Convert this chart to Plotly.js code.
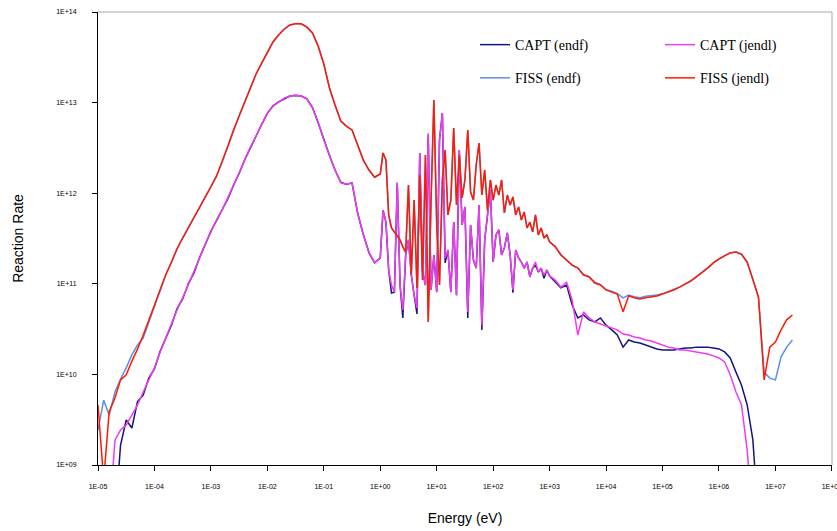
<!DOCTYPE html>
<html>
<head>
<meta charset="utf-8">
<script src="https://cdn.plot.ly/plotly-3.0.1.min.js"></script>
<style>html,body{margin:0;padding:0;background:#fff;}#chart{width:837px;height:531px;}</style>
</head>
<body>
<div id="chart"></div>
<script>
// Energy grid (eV)
const energy = [
  1e-5,1.26e-5,1.58e-5,2e-5,2.51e-5,3.16e-5,3.98e-5,5.01e-5,6.31e-5,7.94e-5,
  1e-4,1.26e-4,1.58e-4,2e-4,2.51e-4,3.16e-4,3.98e-4,5.01e-4,6.31e-4,7.94e-4,
  1e-3,1.26e-3,1.58e-3,2e-3,2.51e-3,3.16e-3,3.98e-3,5.01e-3,6.31e-3,7.94e-3,
  1e-2,1.26e-2,1.58e-2,2e-2,2.51e-2,3.16e-2,3.98e-2,5.01e-2,6.31e-2,7.94e-2,
  1e-1,1.26e-1,1.58e-1,2e-1,2.51e-1,3.16e-1,3.98e-1,5.01e-1,6.31e-1,7.94e-1,
  1,1.12,1.26,1.41,1.58,1.78,2,2.24,2.51,2.82,3.16,3.55,3.98,4.47,5.01,5.62,6.31,7.08,7.94,8.91,
  10,11.2,12.6,14.1,15.8,17.8,20,22.4,25.1,28.2,31.6,35.5,39.8,44.7,50.1,56.2,63.1,70.8,79.4,89.1,
  100,112,126,141,158,178,200,224,251,282,316,355,398,447,501,562,631,708,794,891,
  1e3,1.26e3,1.58e3,2e3,2.51e3,3.16e3,3.98e3,5.01e3,6.31e3,7.94e3,
  1e4,1.26e4,1.58e4,2e4,2.51e4,3.16e4,3.98e4,5.01e4,6.31e4,7.94e4,
  1e5,1.26e5,1.58e5,2e5,2.51e5,3.16e5,3.98e5,5.01e5,6.31e5,7.94e5,
  1e6,1.26e6,1.58e6,2e6,2.51e6,3.16e6,3.98e6,5.01e6,6.31e6,7.94e6,
  1e7,1.26e7,1.58e7,2e7
];

const captEndf = [
  null,null,null,2.5e8,1.66e9,3.14e9,2.56e9,5.0e9,5.9e9,9.1e9,
  1.15e10,1.8e10,2.45e10,3.5e10,5.3e10,6.8e10,1.0e11,1.32e11,1.95e11,2.7e11,
  3.8e11,5.0e11,6.6e11,8.7e11,1.22e12,1.65e12,2.35e12,3.2e12,4.3e12,5.75e12,
  7.6e12,9.2e12,1.02e13,1.11e13,1.18e13,1.2e13,1.18e13,1.1e13,8.8e12,6.0e12,
  3.9e12,2.6e12,1.8e12,1.32e12,1.25e12,1.3e12,6.0e11,3.5e11,2.2e11,1.7e11,
  1.93e11,6.5e11,4.8e11,1.42e11,7.9e10,8.1e10,1.3e12,9.7e10,4.2e10,2.08e11,
  3.05e11,1.25e11,7.5e10,4.65e10,2.78e12,1.35e11,9.7e10,4.4e12,8.55e10,2.08e11,
  8.1e10,3.87e12,7.68e12,1.7e11,2.36e11,8.1e10,4.8e11,7.5e10,3.0e12,4.46e11,
  7.05e11,4.2e10,4.46e11,1.83e11,1.49e11,7.42e11,3.1e10,3.05e11,5.75e11,1.08e12,
  1.74e11,3.46e11,3.93e11,2.08e11,2.49e11,3.64e11,2.08e11,8.0e10,2.36e11,1.93e11,
  1.74e11,1.49e11,1.74e11,1.19e11,1.49e11,1.6e11,1.35e11,1.49e11,1.15e11,1.42e11,
  1.22e11,1.04e11,9.0e10,9.7e10,5.84e10,4.2e10,4.53e10,4.0e10,3.79e10,4.2e10,
  3.5e10,3.1e10,2.72e10,2.0e10,2.4e10,2.28e10,2.22e10,2.11e10,2.0e10,1.91e10,
  1.86e10,1.86e10,1.86e10,1.91e10,1.96e10,1.96e10,2.0e10,2.0e10,2.0e10,1.96e10,
  1.91e10,1.77e10,1.52e10,1.06e10,7.6e9,4.6e9,1.89e9,2.5e8,null,null,
  null,null,null,null
];

const captJendl = [
  null,null,2.5e8,1.89e9,2.43e9,2.76e9,3.56e9,4.6e9,6.4e9,8.7e9,
  1.18e10,1.77e10,2.52e10,3.6e10,5.14e10,7.0e10,9.7e10,1.35e11,1.93e11,2.75e11,
  3.73e11,5.06e11,6.5e11,8.85e11,1.2e12,1.67e12,2.32e12,3.23e12,4.28e12,5.8e12,
  7.68e12,9.15e12,1.02e13,1.12e13,1.18e13,1.21e13,1.18e13,1.1e13,8.7e12,6.1e12,
  3.87e12,2.64e12,1.8e12,1.3e12,1.26e12,1.3e12,6.05e11,3.46e11,2.24e11,1.7e11,
  1.93e11,6.5e11,4.8e11,1.42e11,9.7e10,8.1e10,1.3e12,9.7e10,5.14e10,2.08e11,
  3.05e11,1.25e11,7.5e10,5.4e10,2.78e12,1.35e11,9.7e10,4.6e12,8.55e10,2.08e11,
  8.1e10,3.87e12,7.68e12,1.93e11,2.36e11,8.1e10,4.8e11,7.5e10,3.0e12,4.46e11,
  7.05e11,4.9e10,4.46e11,1.83e11,1.49e11,7.42e11,3.5e10,3.05e11,5.75e11,1.08e12,
  1.74e11,3.46e11,3.93e11,2.08e11,2.49e11,3.64e11,2.08e11,8.55e10,2.36e11,1.93e11,
  1.74e11,1.49e11,1.74e11,1.19e11,1.49e11,1.74e11,1.35e11,1.49e11,1.25e11,1.42e11,
  1.22e11,1.1e11,9.2e10,1.04e11,6.6e10,2.72e10,4.9e10,4.2e10,3.79e10,3.6e10,
  3.42e10,3.25e10,3.1e10,2.79e10,2.72e10,2.59e10,2.52e10,2.4e10,2.34e10,2.22e10,
  2.11e10,2.0e10,1.96e10,1.86e10,1.86e10,1.81e10,1.77e10,1.72e10,1.68e10,1.6e10,
  1.52e10,1.37e10,9.9e9,6.4e9,4.6e9,1.46e9,2.5e8,null,null,null,
  null,null,null,null
];

const fissEndf = [
  2.43e9,5.2e9,3.56e9,6.4e9,8.9e9,1.18e10,1.64e10,2.11e10,2.52e10,3.79e10,
  5.8e10,8.3e10,1.25e11,1.72e11,2.45e11,3.2e11,4.1e11,5.4e11,7.0e11,9.1e11,
  1.17e12,1.55e12,2.2e12,3.3e12,5.0e12,7.1e12,1.02e13,1.45e13,2.07e13,2.73e13,
  3.62e13,4.67e13,5.58e13,6.5e13,7.2e13,7.4e13,7.4e13,6.8e13,5.87e13,4.2e13,
  2.67e13,1.45e13,9.4e12,6.27e12,5.5e12,5.0e12,3.4e12,2.32e12,1.8e12,1.5e12,
  1.63e12,2.78e12,2.32e12,5.75e11,4.13e11,3.73e11,3.37e11,3.05e11,2.55e11,2.24e11,
  1.23e12,1.25e11,8.4e11,9.0e10,1.59e12,1.1e11,2.64e12,3.79e10,8.4e11,1.07e13,
  4.46e11,9.7e10,1.4e12,3.0e12,5.75e11,8.4e11,5.24e12,7.42e11,2.64e12,8.85e11,
  1.4e12,4.98e12,1.03e12,8.4e11,2.05e12,3.58e12,9.55e11,1.8e12,6.5e11,1.4e12,
  8.4e11,1.23e12,9.55e11,1.4e12,6.05e11,9.55e11,7.42e11,9.1e11,5.75e11,7.05e11,
  5.06e11,6.2e11,4.13e11,4.8e11,3.73e11,5.75e11,3.46e11,4.13e11,3.2e11,3.46e11,
  2.9e11,2.6e11,2.1e11,1.85e11,1.6e11,1.5e11,1.27e11,1.2e11,1.04e11,9.8e10,
  8.6e10,8.3e10,7.8e10,7.0e10,7.5e10,7.2e10,7.0e10,7.3e10,7.4e10,7.5e10,
  7.8e10,8.2e10,8.6e10,9.2e10,1.0e11,1.08e11,1.2e11,1.33e11,1.5e11,1.7e11,
  1.88e11,2.05e11,2.2e11,2.24e11,2.1e11,1.72e11,1.12e11,7.0e10,1.06e10,9.1e9,
  8.7e9,1.56e10,2.0e10,2.4e10
];

const fissJendl = [
  4.6e9,6.8e8,3.9e9,5.5e9,8.7e9,9.9e9,1.4e10,1.9e10,2.7e10,4.0e10,
  5.8e10,8.5e10,1.25e11,1.74e11,2.42e11,3.2e11,4.13e11,5.33e11,7.05e11,9.1e11,
  1.17e12,1.55e12,2.21e12,3.32e12,4.98e12,7.1e12,1.02e13,1.45e13,2.07e13,2.73e13,
  3.62e13,4.67e13,5.58e13,6.5e13,7.2e13,7.4e13,7.4e13,6.8e13,5.87e13,4.2e13,
  2.67e13,1.45e13,9.4e12,6.27e12,5.5e12,5.0e12,3.4e12,2.32e12,1.8e12,1.5e12,
  1.63e12,2.78e12,2.32e12,5.75e11,4.13e11,3.73e11,3.37e11,3.05e11,2.55e11,2.24e11,
  1.23e12,1.25e11,8.4e11,9.0e10,1.59e12,1.1e11,2.64e12,3.79e10,8.4e11,1.07e13,
  4.46e11,9.7e10,1.4e12,3.0e12,5.75e11,8.4e11,5.24e12,7.42e11,2.64e12,8.85e11,
  1.4e12,4.98e12,1.03e12,8.4e11,2.05e12,3.58e12,9.55e11,1.8e12,6.5e11,1.4e12,
  8.4e11,1.23e12,9.55e11,1.4e12,6.05e11,9.55e11,7.42e11,9.1e11,5.75e11,7.05e11,
  5.06e11,6.2e11,4.13e11,4.8e11,3.73e11,5.75e11,3.46e11,4.13e11,3.2e11,3.46e11,
  2.9e11,2.55e11,2.08e11,1.83e11,1.61e11,1.49e11,1.25e11,1.19e11,1.02e11,9.7e10,
  8.55e10,8.1e10,7.7e10,4.9e10,7.35e10,7.0e10,6.8e10,7.0e10,7.15e10,7.35e10,
  7.7e10,8.1e10,8.55e10,9.2e10,9.9e10,1.07e11,1.19e11,1.32e11,1.49e11,1.7e11,
  1.88e11,2.03e11,2.19e11,2.24e11,2.13e11,1.74e11,1.1e11,7.15e10,8.7e9,2.0e10,
  2.28e10,3.1e10,4.0e10,4.53e10
];

const seriesNames = ['CAPT (endf)', 'CAPT (jendl)', 'FISS (endf)', 'FISS (jendl)'];
const seriesColors = ['#16167a', '#f03cf0', '#5a8ff0', '#ff1a00'];

const xTickVals = [1e-5,1e-4,1e-3,1e-2,1e-1,1,1e1,1e2,1e3,1e4,1e5,1e6,1e7,1e8];
const xTickText = ['1E-05','1E-04','1E-03','1E-02','1E-01','1E+00','1E+01','1E+02','1E+03','1E+04','1E+05','1E+06','1E+07','1E+08'];
const yTickVals = [1e9,1e10,1e11,1e12,1e13,1e14];
const yTickText = ['1E+09','1E+10','1E+11','1E+12','1E+13','1E+14'];

const seriesData = [captEndf, captJendl, fissEndf, fissJendl];
const legendIds = ['legend', 'legend2', 'legend', 'legend2'];

const traces = seriesData.map((ys, i) => ({
  x: energy,
  y: ys,
  type: 'scatter',
  mode: 'lines',
  name: seriesNames[i],
  legend: legendIds[i],
  legendgroup: 'g' + i,
  line: {color: seriesColors[i], width: 1.5},
  connectgaps: false,
  hoverinfo: 'skip'
}));

const tickFont = {family: 'Liberation Sans, Arial, sans-serif', size: 7, color: '#000'};
const titleFont = {family: 'Liberation Sans, Arial, sans-serif', size: 14, color: '#000'};
const legendFont = {family: 'Liberation Serif, Times New Roman, serif', size: 14, color: '#000'};

const layout = {
  width: 837,
  height: 531,
  margin: {l: 98, r: 5, t: 12, b: 66},
  paper_bgcolor: '#fff',
  plot_bgcolor: '#fff',
  showlegend: true,
  xaxis: {
    type: 'log',
    range: [-5, 8.002],
    tickvals: xTickVals,
    ticktext: xTickText,
    ticks: 'outside',
    ticklen: 5,
    tickcolor: '#000',
    showline: true,
    linecolor: '#000',
    linewidth: 1,
    showgrid: false,
    zeroline: false,
    tickfont: tickFont,
    ticklabelstandoff: 10,
    ticklabeloverflow: 'allow',
    automargin: false,
    title: {text: 'Energy (eV)', font: titleFont, standoff: 23}
  },
  yaxis: {
    type: 'log',
    range: [9, 14],
    tickvals: yTickVals,
    ticktext: yTickText,
    ticks: 'outside',
    ticklen: 5,
    tickcolor: '#000',
    showline: true,
    linecolor: '#000',
    linewidth: 1,
    showgrid: false,
    zeroline: false,
    tickfont: tickFont,
    ticklabelstandoff: 14,
    automargin: false,
    title: {text: 'Reaction Rate', font: titleFont, standoff: 29}
  },
  legend: {
    x: 0.5136, xanchor: 'left', y: 0.9624, yanchor: 'top',
    bgcolor: 'rgba(0,0,0,0)', borderwidth: 0,
    font: legendFont, traceorder: 'grouped', tracegroupgap: 12
  },
  legend2: {
    x: 0.7657, xanchor: 'left', y: 0.9624, yanchor: 'top',
    bgcolor: 'rgba(0,0,0,0)', borderwidth: 0,
    font: legendFont, traceorder: 'grouped', tracegroupgap: 12
  },
  shapes: [
    {type: 'line', xref: 'paper', yref: 'paper', x0: 0, x1: 1, y0: 1, y1: 1, line: {color: '#a8a8a8', width: 1}},
    {type: 'line', xref: 'paper', yref: 'paper', x0: 1, x1: 1, y0: 0, y1: 1, line: {color: '#a8a8a8', width: 1}}
  ]
};

Plotly.newPlot('chart', traces, layout, {displayModeBar: false, staticPlot: true});
</script>
</body>
</html>
